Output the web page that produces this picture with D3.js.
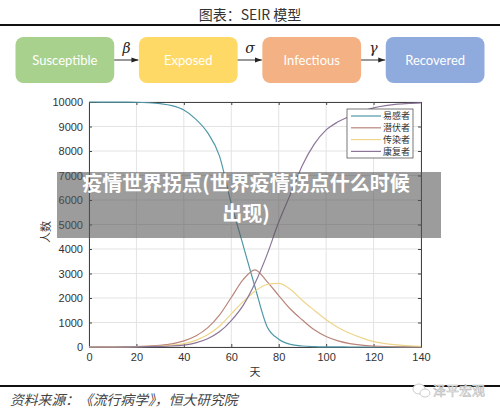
<!DOCTYPE html>
<html><head><meta charset="utf-8">
<script src="https://cdn.jsdelivr.net/npm/d3@7"></script>
<style>body{margin:0;background:#fff}svg{display:block}</style>
</head><body>
<script>
const days = [0,5,10,15,20,25,30,35,40,45,50,55,60,65,70,75,80,85,90,95,100,105,110,115,120,125,130,135,140];
const susceptible = [10000,9999,9998,9995,9990,9970,9930,9850,9670,9300,8750,7800,5850,4150,2450,850,320,110,40,15,5,2,1,0,0,0,0,0,0];
const exposed = [0,2,5,10,20,40,70,130,250,450,780,1300,2020,2750,3150,2680,2100,1540,1100,700,430,250,140,75,40,20,10,5,3];
const infectious = [0,1,3,6,12,22,40,75,140,270,500,850,1350,1850,2280,2550,2600,2350,1900,1500,1110,800,560,370,220,140,85,50,30];
const recovered = [0,0,1,3,6,12,22,40,80,170,340,620,1080,1700,2600,3750,5100,6250,7420,8280,8860,9190,9420,9620,9760,9850,9910,9945,9965];
const seriesNames = ["易感者","潜伏者","传染者","康复者"];
const seriesColors = ["#4f98a8","#b9857a","#eed58a","#8c7599"];
const xTicks = [0,20,40,60,80,100,120,140];
const yTicks = [0,1000,2000,3000,4000,5000,6000,7000,8000,9000,10000];
const stages = ["Susceptible","Exposed","Infectious","Recovered"];
const stageColors = ["#a9d18e","#ffd966","#f4b183","#8faadc"];
const rates = ["β","σ","γ"];

const W=500,H=412;
const svg=d3.select("body").append("svg").attr("width",W).attr("height",H);

// header
svg.append("text").attr("x",250).attr("y",20).attr("text-anchor","middle")
  .style("font-family","'Noto Sans CJK SC',sans-serif").style("font-size","14px").attr("fill","#333")
  .text("图表：SEIR 模型");
svg.append("rect").attr("x",0).attr("y",24).attr("width",W).attr("height",2).attr("fill","#111");

// flow boxes
const bx=d3.scaleBand().domain(stages).range([15.5,484.5]).paddingInner(0.2);
svg.append("defs").append("marker").attr("id","arr").attr("viewBox","0 0 10 10").attr("refX",10).attr("refY",5)
  .attr("markerWidth",7).attr("markerHeight",7).attr("orient","auto")
  .append("path").attr("d","M0,1.5L10,5L0,8.5Z").attr("fill","#222");
stages.forEach((s,i)=>{
  svg.append("rect").attr("x",bx(s)).attr("y",37).attr("width",bx.bandwidth()).attr("height",46)
    .attr("rx",8).attr("fill",stageColors[i]);
  svg.append("text").attr("x",bx(s)+bx.bandwidth()/2).attr("y",64.5).attr("text-anchor","middle")
    .style("font-family","Lato,'Open Sans',sans-serif").style("font-size","13px").attr("fill","#fff").text(s);
  if(i<3){
    const x1=bx(s)+bx.bandwidth(), x2=bx(stages[i+1]);
    svg.append("line").attr("x1",x1).attr("x2",x2-0.5).attr("y1",60).attr("y2",60)
      .attr("stroke","#333").attr("stroke-width",1).attr("marker-end","url(#arr)");
    svg.append("text").attr("x",(x1+x2)/2).attr("y",53).attr("text-anchor","middle")
      .style("font-family","'DejaVu Serif',serif").style("font-style","italic").style("font-size","14px")
      .attr("fill","#222").text(rates[i]);
  }
});

// chart
const x=d3.scaleLinear().domain([0,140]).range([89,421]);
const y=d3.scaleLinear().domain([0,10000]).range([347,102]);
const g=svg.append("g");
g.selectAll(".gx").data(xTicks).join("line").attr("x1",d=>x(d)).attr("x2",d=>x(d)).attr("y1",y(0)).attr("y2",y(10000))
  .attr("stroke","#e3e3e3").attr("stroke-width",1);
g.selectAll(".gy").data(yTicks).join("line").attr("x1",x(0)).attr("x2",x(140)).attr("y1",d=>y(d)).attr("y2",d=>y(d))
  .attr("stroke","#e3e3e3").attr("stroke-width",1);

const axStyle=sel=>{sel.select(".domain").attr("stroke","#444");sel.selectAll(".tick line").attr("stroke","#444");
  sel.selectAll("text").style("font-family","'Liberation Sans',Arial,sans-serif").style("font-size","11px").attr("fill","#333");};
g.append("g").attr("transform",`translate(0,${y(0)})`).call(d3.axisBottom(x).tickValues(xTicks).tickSizeInner(-3).tickSizeOuter(0).tickPadding(6)).call(axStyle);
g.append("g").attr("transform",`translate(${x(0)},0)`).call(d3.axisLeft(y).tickValues(yTicks).tickFormat(d3.format("d")).tickSizeInner(-3).tickSizeOuter(0).tickPadding(6)).call(axStyle);
g.append("g").attr("transform",`translate(0,${y(10000)})`).call(d3.axisTop(x).tickValues(xTicks).tickSizeInner(-3).tickSizeOuter(0).tickFormat("")).call(axStyle);
g.append("g").attr("transform",`translate(${x(140)},0)`).call(d3.axisRight(y).tickValues(yTicks).tickSizeInner(-3).tickSizeOuter(0).tickFormat("")).call(axStyle);

const line=d3.line().x((d,i)=>x(days[i])).y(d=>y(d)).curve(d3.curveMonotoneX);
[susceptible,exposed,infectious,recovered].forEach((s,i)=>{
  g.append("path").attr("d",line(s)).attr("fill","none").attr("stroke",seriesColors[i]).attr("stroke-width",1.2);
});

// legend
const lg=svg.append("g");
lg.append("rect").attr("x",347).attr("y",109).attr("width",66).attr("height",49).attr("fill","#fff").attr("stroke","#555").attr("stroke-width",0.8);
seriesNames.forEach((n,i)=>{
  const yy=116+i*11.8;
  lg.append("line").attr("x1",351).attr("x2",381).attr("y1",yy).attr("y2",yy).attr("stroke",seriesColors[i]).attr("stroke-width",1.2);
  lg.append("text").attr("x",383).attr("y",yy+3.3).style("font-family","'Noto Sans CJK SC',sans-serif").style("font-size","9px").attr("fill","#333").text(n);
});

svg.append("text").attr("transform","translate(50,232) rotate(-90)").attr("text-anchor","middle")
  .style("font-family","'Noto Sans CJK SC',sans-serif").style("font-size","11px").attr("fill","#333").text("人数");
svg.append("text").attr("x",255).attr("y",376).attr("text-anchor","middle")
  .style("font-family","'Noto Sans CJK SC',sans-serif").style("font-size","11px").attr("fill","#333").text("天");

// footer
svg.append("rect").attr("x",0).attr("y",385).attr("width",W).attr("height",2).attr("fill","#111");
svg.append("text").attr("x",10).attr("y",405).style("font-family","'Noto Sans CJK SC',sans-serif").style("font-style","italic")
  .style("font-size","13.8px").attr("fill","#444").text("资料来源：《流行病学》，恒大研究院");
const wm=svg.append("g");
wm.append("ellipse").attr("cx",419).attr("cy",389).attr("rx",6).attr("ry",5).attr("fill","#fff").attr("stroke","#ccc");
wm.append("ellipse").attr("cx",425).attr("cy",393).attr("rx",5).attr("ry",4).attr("fill","#fff").attr("stroke","#ccc");
wm.append("text").attr("x",433).attr("y",395).style("font-family","'Noto Sans CJK SC',sans-serif").style("font-size","13px")
  .attr("fill","#fff").attr("stroke","#bbb").attr("stroke-width",0.6).text("泽平宏观");

// banner overlay
svg.append("rect").attr("x",57).attr("y",172).attr("width",384).attr("height",66).attr("fill","rgba(85,85,85,0.58)");
const bt=["疫情世界拐点(世界疫情拐点什么时候","出现)"];
bt.forEach((t,i)=>{
  svg.append("text").attr("x",246).attr("y",191+i*29.5).attr("text-anchor","middle")
    .style("font-family","'Noto Sans CJK SC',sans-serif").style("font-weight","bold").style("font-size","20px")
    .attr("fill","#fff").text(t);
});
</script>
</body></html>
